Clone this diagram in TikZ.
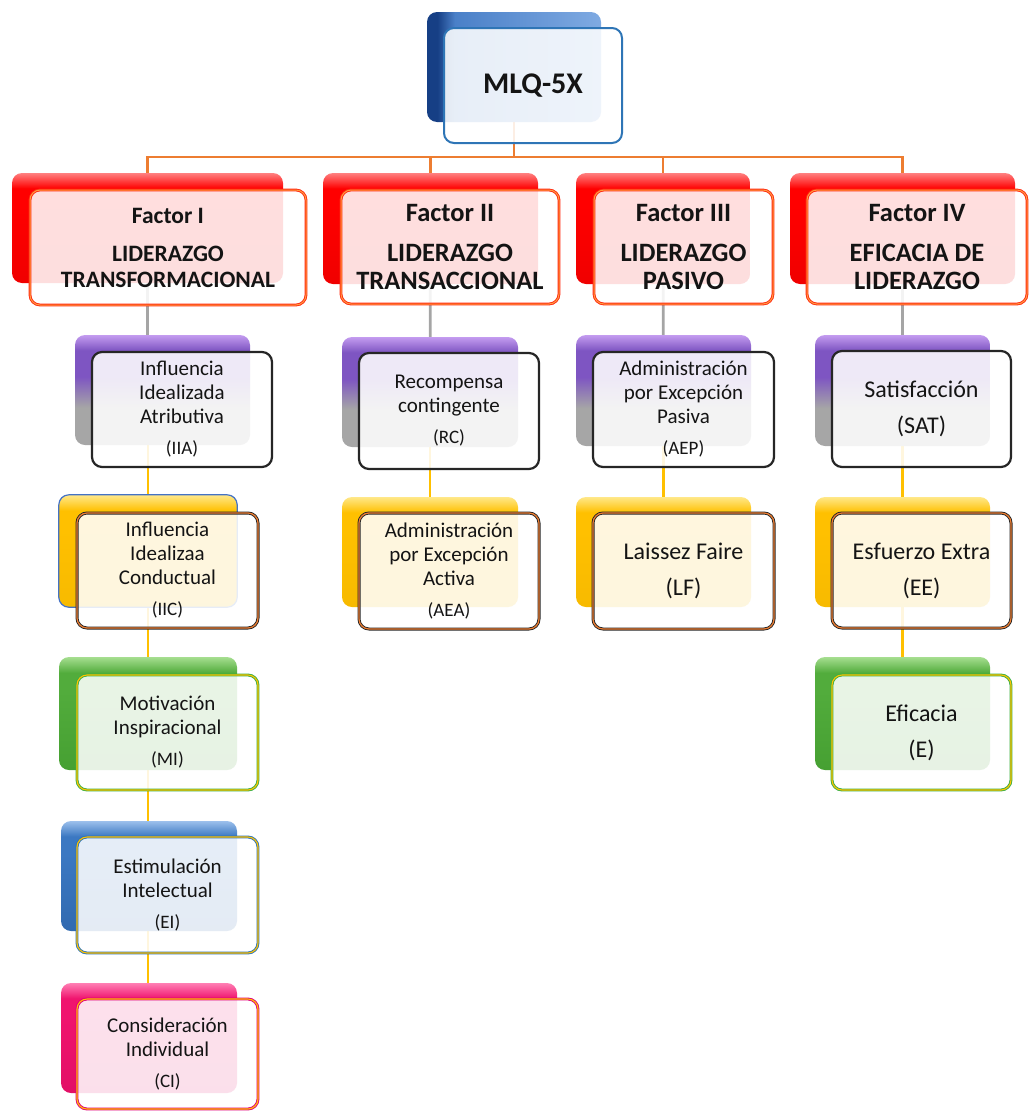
\documentclass[tikz,border=0pt]{standalone}
\usepackage{fontspec}
\setmainfont{Carlito}
\definecolor{txt}{HTML}{141414}
\definecolor{lnorange}{HTML}{ED7D31}
\definecolor{lngray}{HTML}{A5A5A5}
\definecolor{lnyellow}{HTML}{FFC000}
\definecolor{redA}{HTML}{FF8080}
\definecolor{redB}{HTML}{FF0000}
\definecolor{redC}{HTML}{F00000}
\definecolor{purA}{HTML}{C49CF0}
\definecolor{purB}{HTML}{7E55C2}
\definecolor{purC}{HTML}{A6A6A6}
\definecolor{yelA}{HTML}{FFE889}
\definecolor{yelB}{HTML}{FFC000}
\definecolor{yelC}{HTML}{F7BA00}
\definecolor{grnA}{HTML}{A6DE90}
\definecolor{grnB}{HTML}{52AC3C}
\definecolor{grnC}{HTML}{46A032}
\definecolor{bluA}{HTML}{9CC0EC}
\definecolor{bluB}{HTML}{3B78C2}
\definecolor{bluC}{HTML}{316AB0}
\definecolor{pnkA}{HTML}{FF7FB4}
\definecolor{pnkB}{HTML}{F0146E}
\definecolor{pnkC}{HTML}{E20F66}
\definecolor{mlqA}{HTML}{7FAAE2}
\definecolor{mlqB}{HTML}{4A80C8}
\definecolor{mlqC}{HTML}{163F85}
\definecolor{mlqline}{HTML}{2E75B6}
\definecolor{facline}{HTML}{FF2A10}
\definecolor{facinner}{HTML}{FF9A40}
\definecolor{darkline}{HTML}{262626}
\definecolor{orgline}{HTML}{ED7D31}
\definecolor{grnline}{HTML}{3CB043}
\definecolor{pnkline}{HTML}{E0007A}
\definecolor{iicback}{HTML}{4472C4}
% TikZ maps a node onto the 25bp..75bp band of a 100bp shading
\pgfdeclareverticalshading{gred}{100bp}{color(0bp)=(redC); color(25bp)=(redC); color(60bp)=(redB); color(68bp)=(redB); color(75bp)=(redA); color(100bp)=(redA)}
\pgfdeclareverticalshading{gpur}{100bp}{color(0bp)=(purC); color(25bp)=(purC); color(42bp)=(purC); color(56bp)=(purB); color(68bp)=(purB); color(75bp)=(purA); color(100bp)=(purA)}
\pgfdeclareverticalshading{gyel}{100bp}{color(0bp)=(yelC); color(25bp)=(yelC); color(60bp)=(yelB); color(68bp)=(yelB); color(75bp)=(yelA); color(100bp)=(yelA)}
\pgfdeclareverticalshading{ggrn}{100bp}{color(0bp)=(grnC); color(25bp)=(grnC); color(60bp)=(grnB); color(68bp)=(grnB); color(75bp)=(grnA); color(100bp)=(grnA)}
\pgfdeclareverticalshading{gblu}{100bp}{color(0bp)=(bluC); color(25bp)=(bluC); color(60bp)=(bluB); color(68bp)=(bluB); color(75bp)=(bluA); color(100bp)=(bluA)}
\pgfdeclareverticalshading{gpnk}{100bp}{color(0bp)=(pnkC); color(25bp)=(pnkC); color(60bp)=(pnkB); color(68bp)=(pnkB); color(75bp)=(pnkA); color(100bp)=(pnkA)}
\pgfdeclarehorizontalshading{gmlq}{100bp}{color(0bp)=(mlqC); color(25bp)=(mlqC); color(28bp)=(mlqC); color(33bp)=(mlqB); color(75bp)=(mlqA); color(100bp)=(mlqA)}
\pgfdeclarelayer{bg}
\pgfsetlayers{bg,main}
\tikzset{
  backbox/.style={rounded corners=10pt, inner sep=0pt, draw=none},
  bred/.style={backbox, shading=gred},
  bpur/.style={backbox, shading=gpur},
  byel/.style={backbox, shading=gyel},
  bgrn/.style={backbox, shading=ggrn},
  bblu/.style={backbox, shading=gblu},
  bpnk/.style={backbox, shading=gpnk},
  bmlq/.style={backbox, shading=gmlq},
  frontbox/.style={rounded corners=10pt, inner sep=0pt, fill=white, fill opacity=0.87,
    text opacity=1, align=center, text=txt},
  fmlq/.style={frontbox, draw=mlqline, line width=2pt},
  ffac/.style={frontbox, draw=facline, double=facinner, line width=0.9pt, double distance=1pt},
  fdark/.style={frontbox, draw=darkline, line width=2.2pt},
  forg/.style={frontbox, draw=darkline, double=orgline, line width=0.9pt, double distance=1.2pt},
  fgrn/.style={frontbox, draw=grnline, double=lnyellow, line width=0.9pt, double distance=1.1pt},
  fblu/.style={frontbox, draw=mlqline, double=lnyellow, line width=0.9pt, double distance=1.1pt},
  fpnk/.style={frontbox, draw=pnkline, double=lnyellow, line width=0.9pt, double distance=1.1pt},
  conn/.style={line width=2.8pt},
  ctop/.style={conn, draw=lnorange, line width=2.5pt},
  cgray/.style={conn, draw=lngray},
  cyel/.style={conn, draw=lnyellow},
  headI/.style={font=\fontsize{23.5}{26}\selectfont\bfseries},
  head/.style={font=\fontsize{26.5}{28}\selectfont\bfseries},
  small/.style={font=\fontsize{21}{24}\selectfont},
  big/.style={font=\fontsize{24}{36}\selectfont},
}
\newcommand\abbr[1]{\\[7pt]{\fontsize{19}{20}\selectfont #1}}
\begin{document}
\begin{tikzpicture}[x=1pt,y=-1pt]
\useasboundingbox (0,0) rectangle (1029,1111);
% ---- back boxes ----
\node[bmlq, minimum width=174pt, minimum height=110pt] (mlqb) at (514,67) {};
\node[bred, minimum width=271pt, minimum height=110pt] (f1b) at (147.5,228) {};
\node[bred, minimum width=215pt, minimum height=111pt] (f2b) at (430.5,228.5) {};
\node[bred, minimum width=174pt, minimum height=111pt] (f3b) at (663,228.5) {};
\node[bred, minimum width=225pt, minimum height=111pt] (f4b) at (902.5,228.5) {};
\node[bpur, minimum width=175pt, minimum height=110pt] (iiab) at (162.5,390) {};
\node[byel, minimum width=178pt, minimum height=112pt] (iicb) at (148,551) {};
\draw[iicback, line width=1.2pt, rounded corners=10pt] (iicb.north west) rectangle (iicb.south east);
\node[bgrn, minimum width=178pt, minimum height=113pt] (mib) at (148,713.5) {};
\node[bblu, minimum width=176pt, minimum height=110pt] (eib) at (149,876) {};
\node[bpnk, minimum width=176pt, minimum height=110pt] (cib) at (149,1038) {};
\node[bpur, minimum width=176pt, minimum height=110pt] (rcb) at (430,392) {};
\node[byel, minimum width=176pt, minimum height=110pt] (aeab) at (430,552) {};
\node[bpur, minimum width=175pt, minimum height=111pt] (aepb) at (663.5,390.5) {};
\node[byel, minimum width=175pt, minimum height=110pt] (lfb) at (663.5,552) {};
\node[bpur, minimum width=175pt, minimum height=111pt] (satb) at (902.5,390.5) {};
\node[byel, minimum width=175pt, minimum height=110pt] (eeb) at (902.5,552) {};
\node[bgrn, minimum width=175pt, minimum height=113pt] (eb) at (902.5,713.5) {};
% ---- connectors, behind all boxes ----
\coordinate (bus) at (0,157);
\begin{pgfonlayer}{bg}
\draw[ctop] (mlqb.center) -- (mlqb.center |- bus) -| (f1b.center);
\draw[ctop] (mlqb.center |- bus) -| (f2b.center);
\draw[ctop] (mlqb.center |- bus) -| (f3b.center);
\draw[ctop] (mlqb.center |- bus) -| (f4b.center);
\draw[cgray] (f1b.center) -- (f1b.center |- iiab.center);
\draw[cgray] (f2b.center) -- (rcb.center);
\draw[cgray] (f3b.center) -- (aepb.center);
\draw[cgray] (f4b.center) -- (satb.center);
\draw[cyel] (iicb.center |- iiab.center) -- (iicb.center);
\draw[cyel] (iicb.center) -- (mib.center);
\draw[cyel] (mib.center) -- (mib.center |- eib.center);
\draw[cyel] (mib.center |- eib.center) -- (mib.center |- cib.center);
\draw[cyel] (rcb.center) -- (aeab.center);
\draw[cyel] (aepb.center) -- (lfb.center);
\draw[cyel] (satb.center) -- (eeb.center);
\draw[cyel] (eeb.center) -- (eb.center);
\end{pgfonlayer}
% ---- front boxes ----
\node[fmlq, minimum width=178pt, minimum height=115pt, font=\fontsize{30}{32}\selectfont\bfseries] (mlq) at (533,85.5) {MLQ-5X};
\node[ffac, headI, minimum width=276pt, minimum height=115pt] (f1) at (168,247.5) {Factor I\\[12pt]LIDERAZGO\\TRANSFORMACIONAL};
\node[ffac, head, minimum width=218pt, minimum height=114pt] (f2) at (450,247) {Factor II\\[12pt]LIDERAZGO\\TRANSACCIONAL};
\node[ffac, head, minimum width=179pt, minimum height=114pt] (f3) at (683.5,247) {Factor III\\[12pt]LIDERAZGO\\PASIVO};
\node[ffac, head, minimum width=220pt, minimum height=114pt] (f4) at (917,247) {Factor IV\\[12pt]EFICACIA DE\\LIDERAZGO};
\node[fdark, small, minimum width=180pt, minimum height=115pt] (iia) at (182,409.5) {Influencia\\Idealizada\\Atributiva\abbr{(IIA)}};
\node[forg, small, minimum width=181pt, minimum height=115pt] (iic) at (167.5,570.5) {Influencia\\Idealizaa\\Conductual\abbr{(IIC)}};
\node[fgrn, small, minimum width=181pt, minimum height=115pt] (mi) at (167.5,732.5) {Motivación\\Inspiracional\abbr{(MI)}};
\node[fblu, small, minimum width=181pt, minimum height=116pt] (ei) at (167.5,895) {Estimulación\\Intelectual\abbr{(EI)}};
\node[fpnk, small, minimum width=181pt, minimum height=110pt] (ci) at (167.5,1054) {Consideración\\Individual\abbr{(CI)}};
\node[fdark, small, minimum width=180pt, minimum height=116pt] (rc) at (449,411) {Recompensa\\contingente\abbr{(RC)}};
\node[forg, small, minimum width=180pt, minimum height=116pt] (aea) at (449,571) {Administración\\por Excepción\\Activa\abbr{(AEA)}};
\node[fdark, small, minimum width=181pt, minimum height=115pt] (aep) at (683.5,409.5) {Administración\\por Excepción\\Pasiva\abbr{(AEP)}};
\node[forg, big, minimum width=181pt, minimum height=116pt] (lf) at (683.5,571) {Laissez Faire\\(LF)};
\node[fdark, big, minimum width=179pt, minimum height=116pt] (sat) at (921.5,409) {Satisfacción\\(SAT)};
\node[forg, big, minimum width=179pt, minimum height=115pt] (ee) at (921.5,570.5) {Esfuerzo Extra\\(EE)};
\node[fgrn, big, minimum width=179pt, minimum height=115pt] (e) at (921.5,732.5) {Eficacia\\(E)};
\end{tikzpicture}
\end{document}
